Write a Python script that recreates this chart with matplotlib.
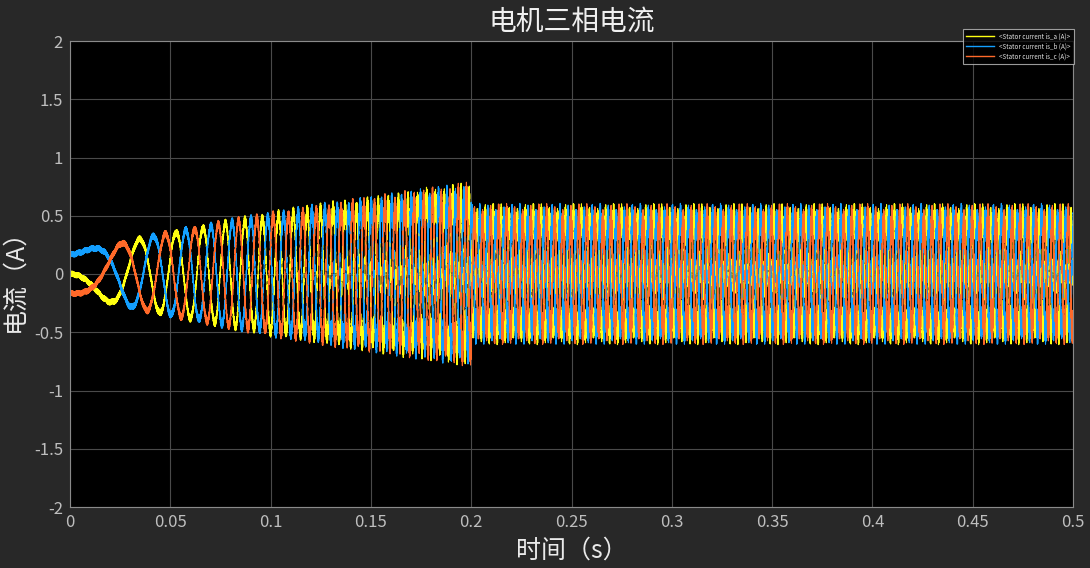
import numpy as np
import matplotlib
matplotlib.use('Agg')
import matplotlib.pyplot as plt

plt.rcParams['font.family'] = ['Noto Sans CJK SC', 'DejaVu Sans']

# ---- values ----
key_t   = [0.0, 0.02, 0.04, 0.06, 0.08, 0.10, 0.125, 0.15, 0.175, 0.1999, 0.2001, 0.5]
amp     = [0.19, 0.24, 0.32, 0.38, 0.44, 0.49, 0.54, 0.58, 0.62, 0.65, 0.48, 0.48]   # fundamental amplitude (A)
ripple  = [0.025, 0.027, 0.03, 0.035, 0.04, 0.055, 0.075, 0.095, 0.12, 0.15, 0.13, 0.13]  # switching ripple (A)
freq_t  = [0.0, 0.2, 0.5]
freq    = [0.0, 250.0, 250.0]          # electrical frequency (Hz)
ripple_f = [4700.0, 9100.0]            # switching ripple components (Hz)
labels  = ['<Stator current is_a (A)>', '<Stator current is_b (A)>', '<Stator current is_c (A)>']
colors  = ['#FFFF11', '#139FFF', '#FF6929']
xticks  = [0, 0.05, 0.1, 0.15, 0.2, 0.25, 0.3, 0.35, 0.4, 0.45, 0.5]
xtlabels = ['0', '0.05', '0.1', '0.15', '0.2', '0.25', '0.3', '0.35', '0.4', '0.45', '0.5']
yticks  = [-2, -1.5, -1, -0.5, 0, 0.5, 1, 1.5, 2]
ytlabels = ['-2', '-1.5', '-1', '-0.5', '0', '0.5', '1', '1.5', '2']

# ---- build waveform from the read parameters ----
dt = 1e-5
t = np.arange(0, 0.5 + dt / 2, dt)
A = np.interp(t, key_t, amp)
R = np.interp(t, key_t, ripple)
f = np.interp(t, freq_t, freq)
phi = np.pi + 2 * np.pi * np.cumsum(f) * dt
shifts = [0.0, -2 * np.pi / 3, 2 * np.pi / 3]
currents = []
for k, s in enumerate(shifts):
    rip = R * (0.6 * np.sin(2 * np.pi * ripple_f[0] * t + 1.3 * k)
               + 0.4 * np.sin(2 * np.pi * ripple_f[1] * t + 2.1 * k + 0.5))
    currents.append(A * np.sin(phi + s) + rip)

W, H = 1090, 568
fig = plt.figure(figsize=(W / 100, H / 100), dpi=100)
fig.patch.set_facecolor('#282828')
ax = fig.add_axes([70 / W, 1 - 507 / H, (1073 - 70) / W, (507 - 41) / H])
ax.set_facecolor('black')

for y, c, lab in zip(currents, colors, labels):
    ax.plot(t, y, color=c, lw=0.8, label=lab)

ax.set_xlim(0, 0.5)
ax.set_ylim(-2, 2)
ax.set_xticks(xticks)
ax.set_xticklabels(xtlabels)
ax.set_yticks(yticks)
ax.set_yticklabels(ytlabels)
ax.grid(True, color='#4a4a4a', lw=0.8)
ax.set_axisbelow(True)
ax.tick_params(colors='#BEBEBE', labelsize=12, length=0, pad=5)
for sp in ax.spines.values():
    sp.set_color('#8a8a8a')
    sp.set_linewidth(0.8)

ax.set_title('电机三相电流', color='#F0F0F0', fontsize=20, pad=8, fontweight='light')
ax.set_xlabel('时间（s）', color='#EAEAEA', fontsize=18, labelpad=5, fontweight='light')
ax.set_ylabel('电流（A）', color='#EAEAEA', fontsize=18, labelpad=5, fontweight='light')

leg = fig.legend(loc='upper right', bbox_to_anchor=(1077 / W, 1 - 26 / H),
                 fontsize=4.5, frameon=True, facecolor='black', edgecolor='#C0C0C0',
                 labelcolor='#E0E0E0', handlelength=4.5, borderpad=0.5, labelspacing=0.35,
                 fancybox=False)
leg.get_frame().set_linewidth(0.8)
for line in leg.get_lines():
    line.set_linewidth(1.0)

fig.savefig('out.png', dpi=100, facecolor=fig.get_facecolor())
